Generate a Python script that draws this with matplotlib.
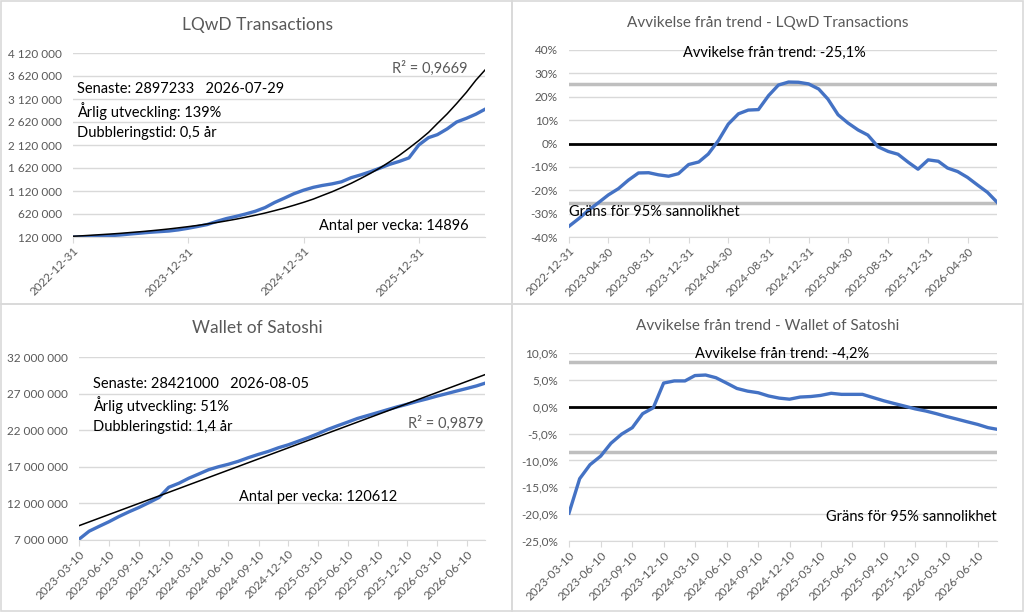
import numpy as np
import pandas as pd
import matplotlib
matplotlib.use('Agg')
import matplotlib.pyplot as plt
import matplotlib.dates as mdates
from matplotlib.patches import Rectangle

plt.rcParams['font.family'] = ['Lato', 'DejaVu Sans']

# --- Data (monthly samples) ---
lqwd_dates = list(pd.date_range('2022-12-31', '2026-06-30', freq='ME')) + [pd.Timestamp('2026-07-29')]
lqwd_total = [118000, 122000, 128000, 137000, 150000, 165000, 185000, 203000, 222000, 236000,
              250000, 275000, 310000, 350000, 390000, 460000, 520000, 568000, 620000, 680000,
              760000, 870000, 965000, 1060000, 1138000, 1200000, 1240000, 1275000, 1320000, 1410000,
              1470000, 1540000, 1620000, 1700000, 1765000, 1840000, 2120000, 2280000, 2345000, 2470000,
              2620000, 2700000, 2790000, 2897233]
# exponential trendline
lqwd_trend = [136000, 147000, 159000, 172000, 185000, 200000, 217000, 234000, 253000, 273000,
              295000, 319000, 345000, 373000, 403000, 435000, 470000, 508000, 549000, 593000,
              641000, 693000, 749000, 809000, 874000, 945000, 1021000, 1103000, 1192000, 1288000,
              1392000, 1504000, 1625000, 1756000, 1898000, 2051000, 2216000, 2394000, 2587000, 2796000,
              3021000, 3265000, 3528000, 3750000]
lqwd_dev = [-35.4, -32.0, -28.6, -25.3, -22.0, -19.3, -15.7, -12.6, -12.5, -13.4,
            -14.0, -12.9, -9.0, -7.9, -4.5, 1.3, 8.3, 12.7, 14.3, 14.5,
            20.5, 25.0, 26.3, 26.2, 25.5, 23.3, 19.0, 12.3, 8.8, 5.8,
            3.6, -1.4, -3.4, -4.6, -8.0, -11.0, -7.0, -7.6, -10.5, -12.0,
            -14.5, -17.8, -20.9, -25.1]
lqwd_band = 25.3

wos_dates = list(pd.date_range('2023-03-10', '2026-07-10', freq=pd.DateOffset(months=1))) + [pd.Timestamp('2026-08-05')]
wos_total = [7.1, 8.2, 8.85, 9.5, 10.2, 10.85, 11.45, 12.1, 12.8, 14.2,
             14.75, 15.45, 16.0, 16.6, 17.0, 17.35, 17.75, 18.25, 18.7, 19.1,
             19.6, 20.0, 20.5, 21.0, 21.5, 22.1, 22.6, 23.1, 23.6, 24.0,
             24.4, 24.8, 25.2, 25.55, 25.95, 26.3, 26.65, 27.0, 27.35, 27.7,
             28.05, 28.421]
wos_total = [v * 1e6 for v in wos_total]
wos_dev = [-19.8, -13.4, -10.8, -9.2, -6.8, -5.1, -3.9, -1.3, -0.2, 4.4,
           4.8, 4.8, 5.8, 5.9, 5.4, 4.4, 3.4, 2.9, 2.6, 2.0,
           1.6, 1.4, 1.8, 1.9, 2.1, 2.5, 2.3, 2.3, 2.3, 1.7,
           1.1, 0.6, 0.1, -0.4, -0.8, -1.3, -1.8, -2.3, -2.8, -3.3,
           -3.9, -4.2]
wos_band = 8.35

lqwd_ticks = pd.to_datetime(['2022-12-31', '2023-12-31', '2024-12-31', '2025-12-31'])
lqwd_dev_ticks = pd.date_range('2022-12-31', '2026-04-30', freq='4ME')
wos_ticks = pd.date_range('2023-03-10', '2026-06-10', freq=pd.DateOffset(months=3))

BLUE = '#4472C4'
GRID = '#d9d9d9'
GREY_TXT = '#595959'
BAND = '#bfbfbf'

W, H = 1024, 612


def fx(x):
    return x / W


def fy(y):
    return 1 - y / H


def add_axes(x0, y0, x1, y1):
    return fig.add_axes([fx(x0), fy(y1), fx(x1 - x0), (y1 - y0) / H])


def style(ax, dates, ticks, yticks, ylabels):
    ax.set_xlim(dates[0], dates[-1])
    ax.set_ylim(yticks[0], yticks[-1])
    ax.set_yticks(yticks)
    ax.set_yticklabels(ylabels)
    ax.set_xticks(ticks)
    ax.xaxis.set_major_formatter(mdates.DateFormatter('%Y-%m-%d'))
    for s in ['top', 'right', 'left']:
        ax.spines[s].set_visible(False)
    ax.spines['bottom'].set_color(GRID)
    ax.grid(axis='y', color=GRID, lw=1.0)
    ax.set_axisbelow(True)
    ax.tick_params(axis='y', length=0, labelsize=8.5, labelcolor=GREY_TXT, pad=8)
    ax.tick_params(axis='x', length=4, color=GRID, labelsize=8.5, labelcolor=GREY_TXT, pad=2)
    for lab in ax.get_xticklabels():
        lab.set_rotation(45)
        lab.set_ha('right')
        lab.set_va('top')
        lab.set_rotation_mode('anchor')
    ax.patch.set_alpha(0)


fig = plt.figure(figsize=(10.24, 6.12), dpi=100)

# panel frames
for (x0, y0, x1, y1) in [(1, 1, 512, 304), (512, 1, 1023, 304), (1, 304, 512, 611), (512, 304, 1023, 611)]:
    fig.add_artist(Rectangle((fx(x0), fy(y1)), fx(x1 - x0), (y1 - y0) / H,
                             transform=fig.transFigure, fill=False, edgecolor=GRID, lw=1.2))

# --- LQwD Transactions ---
ax1 = add_axes(73, 53, 485, 237)
ax1.plot(lqwd_dates, lqwd_total, color=BLUE, lw=2.4)
ax1.plot(lqwd_dates, lqwd_trend, color='black', lw=1.1)
yt = np.arange(120000, 4120001, 500000)
style(ax1, lqwd_dates, lqwd_ticks, yt, [f"{v:,.0f}".replace(',', ' ') for v in yt])
fig.text(fx(257), fy(25), 'LQwD Transactions', ha='center', va='center', fontsize=12.5, color=GREY_TXT)
fig.text(fx(77), fy(89), 'Senaste: 2897233   2026-07-29', ha='left', va='center', fontsize=10.5)
fig.text(fx(77), fy(111), 'Årlig utveckling: 139%', ha='left', va='center', fontsize=10.5)
fig.text(fx(77), fy(133), 'Dubbleringstid: 0,5 år', ha='left', va='center', fontsize=10.5)
fig.text(fx(468), fy(68), 'R² = 0,9669', ha='right', va='center', fontsize=10.5, color=GREY_TXT)
fig.text(fx(469), fy(226), 'Antal per vecka: 14896', ha='right', va='center', fontsize=10.5)

# --- Avvikelse LQwD ---
ax2 = add_axes(569, 50, 997, 237)
ax2.axhline(lqwd_band, color=BAND, lw=2.5, zorder=1.5)
ax2.axhline(-lqwd_band, color=BAND, lw=2.5, zorder=1.5)
ax2.axhline(0, color='black', lw=2.0, zorder=1.6)
ax2.plot(lqwd_dates, lqwd_dev, color=BLUE, lw=2.4, zorder=2)
yt = np.arange(-40, 41, 10)
style(ax2, lqwd_dates, lqwd_dev_ticks, yt, [f"{v}%" for v in yt])
fig.text(fx(768), fy(23), 'Avvikelse från trend - LQwD Transactions', ha='center', va='center',
         fontsize=11, color=GREY_TXT)
fig.text(fx(774), fy(53), 'Avvikelse från trend: -25,1%', ha='center', va='center', fontsize=10.5)
fig.text(fx(569), fy(212), 'Gräns för 95% sannolikhet', ha='left', va='center', fontsize=10.5)

# --- Wallet of Satoshi ---
ax3 = add_axes(79, 357, 485, 540)
wdays = np.array([(d - wos_dates[0]).days for d in wos_dates])
m, b = np.polyfit(wdays, wos_total, 1)   # linear trendline
wos_trend = b + m * wdays
ax3.plot(wos_dates, wos_total, color=BLUE, lw=2.4)
ax3.plot(wos_dates, wos_trend, color='black', lw=1.1)
yt = np.arange(7000000, 32000001, 5000000)
style(ax3, wos_dates, wos_ticks, yt, [f"{v:,.0f}".replace(',', ' ') for v in yt])
fig.text(fx(257), fy(328), 'Wallet of Satoshi', ha='center', va='center', fontsize=12.5, color=GREY_TXT)
fig.text(fx(93), fy(384), 'Senaste: 28421000   2026-08-05', ha='left', va='center', fontsize=10.5)
fig.text(fx(93), fy(405), 'Årlig utveckling: 51%', ha='left', va='center', fontsize=10.5)
fig.text(fx(93), fy(427), 'Dubbleringstid: 1,4 år', ha='left', va='center', fontsize=10.5)
fig.text(fx(484), fy(423), 'R² = 0,9879', ha='right', va='center', fontsize=10.5, color=GREY_TXT)
fig.text(fx(318), fy(497), 'Antal per vecka: 120612', ha='center', va='center', fontsize=10.5)

# --- Avvikelse Wallet of Satoshi ---
ax4 = add_axes(569, 353, 997, 541)
ax4.axhline(wos_band, color=BAND, lw=2.5, zorder=1.5)
ax4.axhline(-wos_band, color=BAND, lw=2.5, zorder=1.5)
ax4.axhline(0, color='black', lw=2.0, zorder=1.6)
ax4.plot(wos_dates, wos_dev, color=BLUE, lw=2.4, zorder=2)
yt = np.arange(-25, 11, 5)
style(ax4, wos_dates, wos_ticks, yt, [f"{v:.1f}%".replace('.', ',') for v in yt])
fig.text(fx(768), fy(326), 'Avvikelse från trend - Wallet of Satoshi', ha='center', va='center',
         fontsize=11, color=GREY_TXT)
fig.text(fx(782), fy(354), 'Avvikelse från trend: -4,2%', ha='center', va='center', fontsize=10.5)
fig.text(fx(997), fy(517), 'Gräns för 95% sannolikhet', ha='right', va='center', fontsize=10.5)

fig.savefig('out.png', dpi=100)
